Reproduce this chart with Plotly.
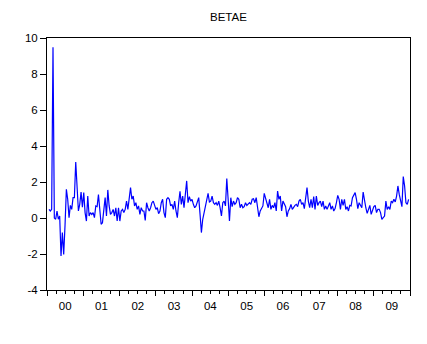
import pandas as pd
import plotly.graph_objects as go

title_text = "BETAE"
start_date = "2000-01-21"
end_date = "2009-12-18"

betae_2000 = [0.48, 0.39, 0.48, 9.48, 0.0, -0.07, 0.39, -0.07, 0.11, -2.11,
              -0.81, -2.02, -0.4, 1.59, 1.04, 0.02, 0.7, 0.48, 1.13, 1.13,
              3.11, 1.31, 0.39, 0.76, 1.44, 0.6, 1.41, 0.30]

betae_mid = [-0.17, 1.22, 0.11, 0.30, 0.20, 0.30, 0.02, 0.67, 0.63, 1.30,
             0.48, -0.35, -0.26, 0.48, 1.13, 0.11, 1.56, 0.67, 0.20, 0.30,
             0.48, 0.11, 0.57, -0.17, 0.57, -0.17, 0.39, 0.48, 0.30, 0.48,
             0.94, 0.48, 1.13, 1.69, 1.04, 1.22, 0.67, 0.85, 0.48, 0.67,
             0.20, 0.57, 0.39, 0.39, -0.13, 0.85, 0.57, 0.39, 0.57, 0.85,
             0.94, 0.67, 0.48, 0.57, 0.24, 0.39, 0.85, 1.04, 0.30, 0.02,
             1.04, 1.13, 1.04, 0.67, 0.76, 0.48, 0.94, 0.39, 0.02, 0.85,
             1.48, 0.76, 1.22, 0.57, 1.41, 2.06, 0.85, 1.19, 0.94, 1.04,
             0.76, 0.57, 0.67, 0.85, 1.13, 0.20, -0.81, -0.07, 0.30, 0.76,
             1.04, 1.37, 0.89, 0.94, 1.22, 0.85, 0.76, 0.85, 0.70, 0.94,
             0.57, 0.11, 0.85, 0.94, 0.67]

betae_late = [2.19, 1.04, -0.17, 1.13, 0.63, 0.94, 0.76, 0.85, 1.13, 1.04,
              0.57, 0.76, 0.57, 0.63, 0.85, 0.70, 0.76, 0.85, 0.76, 1.04,
              1.07, 0.85, 1.13, 0.57, 0.07, 0.39, 0.57, 0.67, 1.37, 1.07,
              0.85, 0.57, 1.04, 0.48, 0.70, 0.57, 0.85, 0.39, 1.50, 1.04,
              1.22, 0.39, 0.94, 0.76, 0.63, 0.07, 0.39, 0.52, 0.76, 0.48,
              0.63, 0.70, 0.76, 0.63, 0.94, 1.04, 0.76, 0.85, 0.52, 1.04,
              1.69, 0.94, 0.57, 1.04, 0.57, 1.19, 0.48, 1.22, 0.70, 0.85,
              0.94, 0.63, 0.94, 0.48, 0.67, 0.48, 0.63, 0.85, 0.48, 0.67,
              0.39, 0.52, 0.85, 1.26, 1.04, 0.48, 1.04, 0.70, 1.04, 0.48,
              0.63, 0.39, 0.70, 0.67, 1.13, 1.31, 1.41, 1.04, 0.52, 0.85,
              0.67, 0.57, 1.44, 0.94, 0.57, 0.26, 0.48, 0.70, 0.20, 0.44,
              0.63, 0.70, 0.30, 0.48, 0.48, 0.30, -0.07, 0.02, 0.11, 0.94,
              0.48, 0.63, 0.48, 0.94, 0.85, 1.04, 0.89, 1.22, 1.78, 1.31,
              1.04, 0.63, 2.30, 1.78, 0.85, 0.76, 1.04]

y_tickvals = [-4, -2, 0, 2, 4, 6, 8, 10]
y_ticktext = ["-4", "-2", "0", "2", "4", "6", "8", "10"]

values = betae_2000 + betae_mid + betae_late
dates = pd.date_range(start_date, end_date, periods=len(values))

font_family = "Liberation Sans, Arial, sans-serif"

fig = go.Figure()
fig.add_trace(go.Scatter(x=dates, y=values, mode="lines",
                         line=dict(color="#0000FF", width=1.2),
                         hoverinfo="skip"))

fig.update_layout(
    width=427, height=344,
    margin=dict(l=47, r=17, t=38, b=54),
    paper_bgcolor="white", plot_bgcolor="white",
    showlegend=False,
    font=dict(family=font_family, size=11.5, color="black"),
    title=dict(text=title_text, x=0.535, xanchor="center", y=0.95, yanchor="middle",
               font=dict(family=font_family, size=11.5, color="black")),
)

fig.update_xaxes(
    type="date",
    range=["2000-01-01", "2010-01-01"],
    tick0="2000-01-01", dtick="M12", tickformat="%y",
    ticklabelmode="period",
    ticks="outside", ticklen=5, tickwidth=1, tickcolor="black",
    minor=dict(dtick="M3", tick0="2000-01-01", ticks="outside", ticklen=3,
               tickwidth=1, tickcolor="black", showgrid=False),
    showline=True, linecolor="black", linewidth=1, mirror=True,
    showgrid=False, zeroline=False,
    tickfont=dict(size=11.5),
)
fig.update_yaxes(
    range=[-4, 10],
    tickvals=y_tickvals, ticktext=y_ticktext,
    ticks="outside", ticklen=6, tickwidth=1, tickcolor="black",
    showline=True, linecolor="black", linewidth=1, mirror=True,
    showgrid=False, zeroline=False,
    tickfont=dict(size=11.5),
)

fig.write_html("out.html", config={"displayModeBar": False})
